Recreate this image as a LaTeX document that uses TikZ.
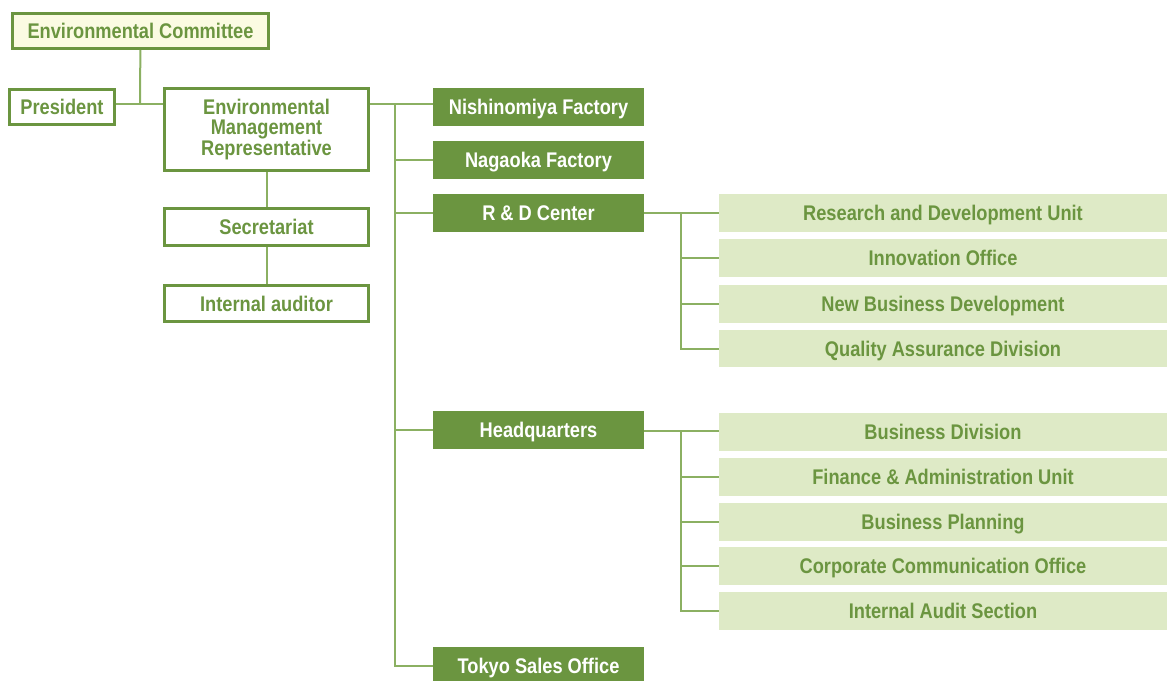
\documentclass[tikz,border=0pt]{standalone}
\usepackage{fontspec}
\setmainfont{Liberation Sans}[FakeStretch=0.86]
\definecolor{leaf}{HTML}{6B9540}
\definecolor{twig}{HTML}{8BB062}
\definecolor{paleleaf}{HTML}{DEEAC6}
\definecolor{cream}{HTML}{FBFBE2}
\begin{document}
\begin{tikzpicture}[
    x=0.5pt, y=-0.5pt,
    every node/.style={font=\bfseries\fontsize{10.6}{10.3}\selectfont, inner sep=0pt, align=center},
    oneline/.style={text height=7.6pt, text depth=0pt},
    framebox/.style={draw=leaf, line width=1.5pt, fill=white, text=leaf, minimum width=102pt, minimum height=18pt},
    sitebox/.style={oneline, fill=leaf, text=white, minimum width=105.5pt, minimum height=19pt},
    unitbox/.style={oneline, fill=paleleaf, text=leaf, minimum width=224pt, minimum height=19pt},
    link/.style={draw=twig, line width=1pt}
]
    \useasboundingbox (0,0) rectangle (1167,680);
    % Top management
    \node[framebox, oneline, fill=cream, minimum width=128pt, minimum height=17.5pt] (committee) at (140.5,31) {Environmental Committee};
    \node[framebox, oneline, minimum width=52.5pt, minimum height=17.5pt] (president) at (62,107) {President};
    \node[framebox, minimum height=41pt] (emr) at (266.5,129.5) {Environmental\\Management\\Representative};
    \node[framebox, oneline, minimum height=18.5pt] (secretariat) at (266.5,227) {Secretariat};
    \node[framebox, oneline] (auditor) at (266.5,303.5) {Internal auditor};
    % Sites
    \node[sitebox] (nishinomiya) at (538.5,107) {Nishinomiya Factory};
    \node[sitebox] (nagaoka) at (538.5,160) {Nagaoka Factory};
    \node[sitebox] (rdcenter) at (538.5,213) {R \& D Center};
    \node[sitebox] (headquarters) at (538.5,430) {Headquarters};
    \node[sitebox] (tokyo) at (538.5,666) {Tokyo Sales Office};
    % R & D units
    \node[unitbox] (rdunit) at (943,213) {Research and Development Unit};
    \node[unitbox] (innovation) at (943,258) {Innovation Office};
    \node[unitbox] (newbiz) at (943,303.5) {New Business Development};
    \node[unitbox, minimum height=18.5pt] (quality) at (943,348.5) {Quality Assurance Division};
    % Headquarters units
    \node[unitbox] (bizdiv) at (943,432) {Business Division};
    \node[unitbox] (finance) at (943,477) {Finance \& Administration Unit};
    \node[unitbox] (planning) at (943,522) {Business Planning};
    \node[unitbox] (corpcomm) at (943,566) {Corporate Communication Office};
    \node[unitbox] (audit) at (943,611) {Internal Audit Section};

    % Joints
    \coordinate (topjoint) at (140,104);
    \coordinate (trunk) at (395,104);
    \coordinate (rdjoint) at (681,213);
    \coordinate (hqjoint) at (681,431);

    % Management links
    \draw[link] (committee) -- (topjoint);
    \draw[link] (president.east |- topjoint) -- (emr.west |- topjoint);
    \draw[link] (emr) -- (secretariat);
    \draw[link] (secretariat) -- (auditor);
    % Site links
    \draw[link] (emr.east |- trunk) -- (nishinomiya.west |- trunk);
    \draw[link] (trunk) |- (tokyo.west);
    \draw[link] (trunk |- nagaoka) -- (nagaoka.west);
    \draw[link] (trunk |- rdcenter) -- (rdcenter.west);
    \draw[link] (trunk |- headquarters) -- (headquarters.west);
    % R & D unit links
    \draw[link] (rdcenter.east) -- (rdunit.west);
    \draw[link] (rdjoint) |- (quality.west);
    \draw[link] (rdjoint |- innovation) -- (innovation.west);
    \draw[link] (rdjoint |- newbiz) -- (newbiz.west);
    % Headquarters unit links
    \draw[link] (headquarters.east |- hqjoint) -- (bizdiv.west |- hqjoint);
    \draw[link] (hqjoint) |- (audit.west);
    \draw[link] (hqjoint |- finance) -- (finance.west);
    \draw[link] (hqjoint |- planning) -- (planning.west);
    \draw[link] (hqjoint |- corpcomm) -- (corpcomm.west);
\end{tikzpicture}
\end{document}
